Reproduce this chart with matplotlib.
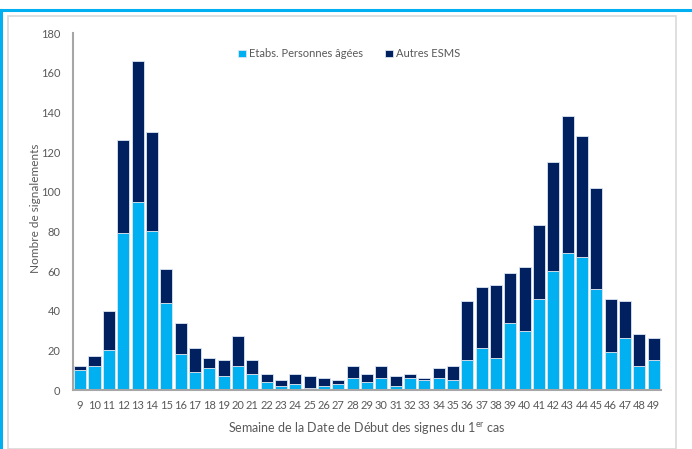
import matplotlib
matplotlib.use("Agg")
import matplotlib.pyplot as plt
from matplotlib.lines import Line2D
from matplotlib.patches import Rectangle

plt.rcParams['font.family'] = ['Lato', 'DejaVu Sans']
plt.rcParams['mathtext.fontset'] = 'custom'
plt.rcParams['mathtext.rm'] = 'Lato'

weeks = list(range(9, 50))
ehpad = [10, 12, 20, 79, 95, 80, 44, 18, 9, 11, 7, 12, 8, 4, 2, 3, 1, 2, 3, 6,
         4, 6, 2, 6, 5, 6, 5, 15, 21, 16, 34, 30, 46, 60, 69, 67, 51, 19, 26, 12, 15]
totals = [12, 17, 40, 126, 166, 130, 61, 34, 21, 16, 15, 27, 15, 8, 5, 8, 7, 6, 5, 12,
          8, 12, 7, 8, 6, 11, 12, 45, 52, 53, 59, 62, 83, 115, 138, 128, 102, 46, 45, 28, 26]
autres = [t - e for t, e in zip(totals, ehpad)]

series_labels = ["Etabs. Personnes âgées", "Autres ESMS"]
c_light = "#00B0F0"
c_dark = "#002060"
grey_txt = "#595959"

fig = plt.figure(figsize=(6.92, 4.49), dpi=100)
ax = fig.add_axes([0.1055, 0.1314, 0.8495, 0.7951])

ax.bar(weeks, ehpad, width=0.84, color=c_light, edgecolor="#DCE6F2", linewidth=0.6,
       label=series_labels[0], zorder=2)
ax.bar(weeks, autres, bottom=ehpad, width=0.84, color=c_dark, edgecolor="#DCE6F2",
       linewidth=0.6, label=series_labels[1], zorder=2)

ax.set_xlim(8.5, 49.5)
ax.set_ylim(0, 180)
ax.set_yticks(range(0, 181, 20))
ax.set_xticks(weeks)
ax.set_xticklabels([str(w) for w in weeks])
ax.tick_params(axis='both', length=0, labelsize=8, labelcolor=grey_txt)
ax.tick_params(axis='y', pad=9)
ax.tick_params(axis='x', pad=7)

for s in ['top', 'right']:
    ax.spines[s].set_visible(False)
for s in ['left', 'bottom']:
    ax.spines[s].set_color("#A6A6A6")
    ax.spines[s].set_linewidth(1.5)

ax.set_ylabel("Nombre de signalements", fontsize=8.5, color=grey_txt)
ax.yaxis.set_label_coords(-0.054, 0.51)
ax.set_xlabel(r"Semaine de la Date de Début des signes du 1$^{\mathrm{er}}$ cas",
              fontsize=9, color=grey_txt, labelpad=7)

leg = ax.legend(loc="upper center", bbox_to_anchor=(0.47, 0.985), ncol=2, frameon=False,
                fontsize=8, handlelength=0.7, handleheight=0.7, handletextpad=0.3,
                columnspacing=2.0)
for t in leg.get_texts():
    t.set_color(grey_txt)

# frame decorations
W, H = 692, 449
fig.add_artist(Rectangle((8 / W, 0), (676 - 8) / W, 1 - 16 / H, transform=fig.transFigure,
                         fill=False, edgecolor="#D9D9D9", linewidth=1.2))
fig.add_artist(Line2D([0, 1], [1 - 10 / H] * 2, transform=fig.transFigure,
                      color=c_light, linewidth=2.2))
fig.add_artist(Line2D([1.2 / W] * 2, [0, 1 - 10 / H], transform=fig.transFigure,
                      color=c_light, linewidth=2.2))

fig.savefig("out.png", dpi=100)
